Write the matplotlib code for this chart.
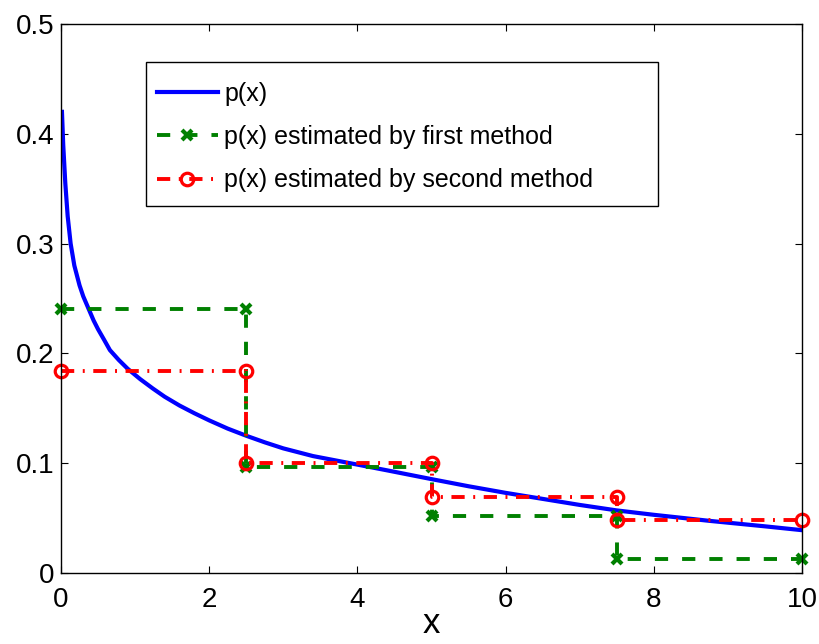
import matplotlib
matplotlib.use("Agg")
import matplotlib.pyplot as plt
from matplotlib.patches import Rectangle

plt.rcParams['font.family'] = ['Liberation Sans', 'DejaVu Sans']

# True density
px_x = [0.013, 0.03, 0.058, 0.09, 0.13, 0.18, 0.25, 0.30, 0.37, 0.44, 0.5, 0.58, 0.66,
        0.78, 0.9, 1.07, 1.24, 1.4, 1.6, 1.8, 2.0, 2.25, 2.5, 2.75, 3.0, 3.4, 3.94,
        4.4, 5.0, 5.5, 6.0, 6.5, 7.0, 7.5, 8.0, 8.75, 9.5, 10.0]
px_y = [0.42, 0.39, 0.355, 0.325, 0.30, 0.28, 0.262, 0.252, 0.241, 0.230, 0.222, 0.2126, 0.203,
        0.194, 0.186, 0.1765, 0.168, 0.1605, 0.1525, 0.1455, 0.139, 0.1315, 0.125, 0.119, 0.1135,
        0.1065, 0.0995, 0.0935, 0.0855, 0.079, 0.073, 0.0675, 0.062, 0.057, 0.053, 0.0475, 0.0425, 0.039]

# Step estimates (vertices of staircases)
step_x = [0, 2.5, 2.5, 5, 5, 7.5, 7.5, 10]
first_y = [0.24, 0.24, 0.0965, 0.0965, 0.052, 0.052, 0.0128, 0.0128]
second_y = [0.184, 0.184, 0.100, 0.100, 0.069, 0.069, 0.048, 0.048]

labels = ['p(x)', 'p(x) estimated by first method', 'p(x) estimated by second method']
xticks = [0, 2, 4, 6, 8, 10]
yticks = [0, 0.1, 0.2, 0.3, 0.4, 0.5]
yticklabels = ['0', '0.1', '0.2', '0.3', '0.4', '0.5']

fig = plt.figure(figsize=(8.2, 6.44), dpi=100)
ax = fig.add_axes([61/820, 71/644, 741/820, 549/644])

ax.plot(px_x, px_y, color=(0, 0, 1), lw=3.0, label=labels[0])
ax.plot(step_x, first_y, color=(0, 0.5, 0), lw=2.8, dashes=(3.4, 3.6),
        marker='x', markersize=6.5, markeredgewidth=3.0, clip_on=False, label=labels[1])
ax.plot(step_x, second_y, color=(1, 0, 0), lw=2.8, dashes=(3.4, 2.2, 0.5, 2.2),
        marker='o', markersize=9, markeredgewidth=2.3, markerfacecolor='none',
        clip_on=False, label=labels[2])

ax.set_xlim(0, 10)
ax.set_ylim(0, 0.5)
ax.set_xticks(xticks)
ax.set_yticks(yticks)
ax.set_yticklabels(yticklabels)
ax.tick_params(direction='in', length=5, width=0.8, top=True, right=True,
               labelsize=20)
ax.tick_params(axis='x', pad=10)
ax.tick_params(axis='y', pad=5)
for s in ax.spines.values():
    s.set_linewidth(1.0)
ax.set_xlabel('x', fontsize=25, labelpad=-4)

# legend frame (MATLAB style box)
x0, x1 = (146-61)/741, (658-61)/741
y1, y0 = (573-62)/549, (573-206)/549
ax.add_patch(Rectangle((x0, y0), x1-x0, y1-y0, transform=ax.transAxes,
                       facecolor='white', edgecolor='black', lw=1.0, zorder=4,
                       clip_on=False))
leg = ax.legend(loc='upper left', bbox_to_anchor=((157-61)/741, (573-81.5)/549),
                fontsize=18, frameon=False, numpoints=1,
                handlelength=2.44, labelspacing=0.78, borderaxespad=0,
                handletextpad=0.25, borderpad=0)
leg.set_zorder(5)

fig.savefig('out.png', dpi=100)
